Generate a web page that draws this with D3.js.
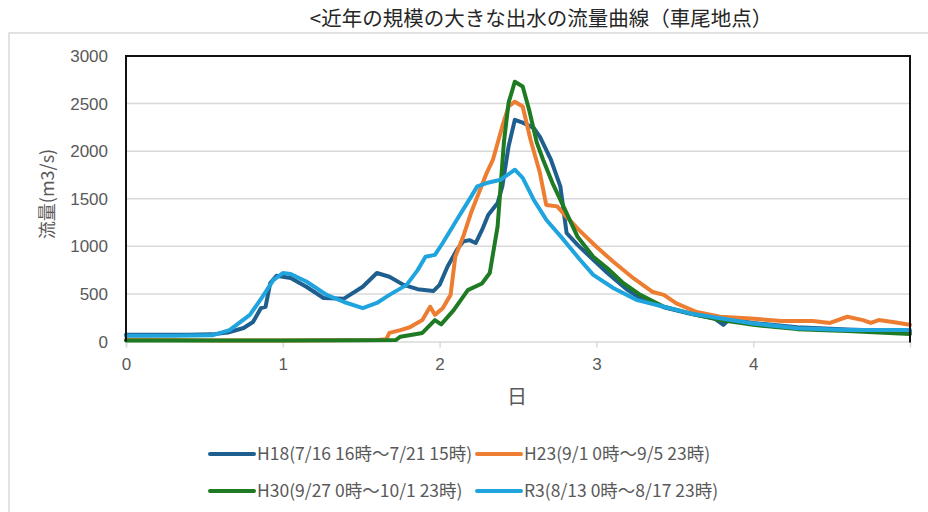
<html>
<head>
    <meta charset="utf-8">
    <style>
        body { margin: 0; background: #fff; }
        text { font-family: "Liberation Sans", Arial, "Noto Sans CJK JP", sans-serif; }
        .jp { font-family: "Noto Sans CJK JP", "Liberation Sans", sans-serif; }
    </style>
    <script src="https://cdn.jsdelivr.net/npm/d3@7"></script>
</head>

<body>
    <svg id="container" width="928" height="512">
        <g id="body"></g>
    </svg>
</body>
<script>
    // 日 (days from start) and 流量 (m3/s)
    let h18Days = [0, 0.2, 0.4, 0.55, 0.65, 0.75, 0.81, 0.86, 0.89, 0.92, 0.96, 1.0, 1.05, 1.15, 1.26, 1.39, 1.51, 1.6, 1.68, 1.77, 1.86, 1.96, 2.0, 2.05, 2.11, 2.15, 2.19, 2.23, 2.27, 2.31, 2.37, 2.4, 2.44, 2.48, 2.53, 2.6, 2.64, 2.71, 2.77, 2.81, 2.88, 2.96, 3.07, 3.2, 3.28, 3.43, 3.6, 3.75, 3.81, 3.85, 4.0, 4.28, 4.6, 5.0]
    let h18Flow = [70, 70, 70, 75, 95, 142, 205, 350, 365, 613, 690, 680, 668, 575, 457, 450, 575, 720, 680, 595, 550, 530, 595, 785, 963, 1050, 1065, 1035, 1170, 1330, 1455, 1630, 2050, 2330, 2300, 2245, 2150, 1910, 1630, 1140, 1015, 890, 720, 540, 455, 360, 290, 245, 175, 235, 195, 150, 125, 105]

    let h23Days = [0, 0.3, 0.6, 1.0, 1.3, 1.6, 1.66, 1.68, 1.75, 1.81, 1.89, 1.94, 1.97, 2.02, 2.07, 2.10, 2.15, 2.2, 2.25, 2.30, 2.34, 2.40, 2.44, 2.48, 2.53, 2.58, 2.64, 2.68, 2.75, 2.81, 2.89, 3.0, 3.11, 3.24, 3.36, 3.43, 3.51, 3.64, 3.79, 3.96, 4.18, 4.38, 4.49, 4.6, 4.7, 4.75, 4.8, 4.89, 5.0]
    let h23Flow = [20, 15, 10, 10, 12, 15, 25, 90, 120, 150, 225, 365, 280, 350, 490, 890, 1100, 1350, 1560, 1770, 1910, 2260, 2470, 2520, 2470, 2120, 1770, 1435, 1420, 1310, 1170, 995, 835, 660, 520, 490, 400, 310, 260, 245, 215, 215, 195, 260, 225, 195, 225, 205, 175]

    let h30Days = [0, 0.5, 1.0, 1.5, 1.72, 1.75, 1.89, 1.97, 2.01, 2.09, 2.18, 2.27, 2.32, 2.37, 2.41, 2.44, 2.48, 2.53, 2.57, 2.62, 2.66, 2.72, 2.79, 2.88, 2.98, 3.07, 3.17, 3.28, 3.43, 3.6, 3.79, 4.0, 4.28, 4.6, 5.0]
    let h30Flow = [10, 10, 10, 12, 15, 50, 90, 225, 180, 330, 540, 610, 720, 1210, 2090, 2510, 2730, 2680, 2440, 2090, 1910, 1665, 1420, 1100, 890, 770, 615, 490, 365, 295, 225, 175, 130, 110, 80]

    let r3Days = [0, 0.3, 0.55, 0.66, 0.79, 0.87, 0.94, 1.0, 1.05, 1.15, 1.28, 1.39, 1.51, 1.6, 1.68, 1.79, 1.86, 1.91, 1.97, 2.02, 2.11, 2.20, 2.24, 2.30, 2.39, 2.48, 2.53, 2.60, 2.68, 2.79, 2.89, 2.98, 3.11, 3.26, 3.43, 3.6, 3.79, 4.0, 4.28, 4.6, 5.0]
    let r3Flow = [60, 60, 65, 120, 280, 470, 645, 720, 710, 630, 490, 415, 350, 405, 490, 595, 750, 890, 910, 1035, 1280, 1520, 1630, 1665, 1700, 1805, 1720, 1490, 1280, 1070, 870, 700, 560, 435, 365, 295, 245, 190, 140, 120, 120]

    let seriesNames = ["H18(7/16 16時～7/21 15時)", "H23(9/1 0時～9/5 23時)", "H30(9/27 0時～10/1 23時)", "R3(8/13 0時～8/17 23時)"]
    let seriesColors = ["#1f5f8f", "#ed7d31", "#1e7a23", "#20a4de"]
    let yTicks = [0, 500, 1000, 1500, 2000, 2500, 3000]
    let xTicks = [0, 1, 2, 3, 4]

    let svg = d3.select("#container")
    let body = d3.select("#body")

    let series = [
        {days: h18Days, flow: h18Flow},
        {days: h23Days, flow: h23Flow},
        {days: h30Days, flow: h30Flow},
        {days: r3Days, flow: r3Flow}
    ].map((s, i) => ({
        name: seriesNames[i],
        color: seriesColors[i],
        points: s.days.map((d, j) => [d, s.flow[j]])
    }))

    // outer frame + title
    svg.insert("rect", "#body")
        .attr("x", 9).attr("y", 33).attr("width", 940).attr("height", 500)
        .attr("fill", "none").attr("stroke", "#d9d9d9").attr("stroke-width", 1.5)

    svg.append("text")
        .attr("class", "jp")
        .attr("x", 541).attr("y", 26)
        .attr("text-anchor", "middle")
        .attr("font-size", 20.5)
        .attr("fill", "#262626")
        .text("<近年の規模の大きな出水の流量曲線（車尾地点）")

    let plotL = 126, plotR = 910, plotT = 56, plotB = 341.5

    let x = d3.scaleLinear().domain([0, 5]).range([plotL, plotR])
    let y = d3.scaleLinear().domain([0, 3000]).range([plotB, plotT])

    // gridlines
    body.selectAll(".grid")
        .data(yTicks.slice(1, -1))
        .enter().append("line")
        .attr("x1", plotL).attr("x2", plotR)
        .attr("y1", d => y(d)).attr("y2", d => y(d))
        .attr("stroke", "#d9d9d9").attr("stroke-width", 1.5)

    // y labels
    body.selectAll(".ylab")
        .data(yTicks)
        .enter().append("text")
        .attr("x", 108).attr("y", d => y(d))
        .attr("dy", "0.36em")
        .attr("text-anchor", "end")
        .attr("font-size", 17)
        .attr("fill", "#595959")
        .text(d => d)

    // x axis
    let xAxis = d3.axisBottom(x).tickValues(xTicks).tickFormat(d3.format("d")).tickSize(6).tickPadding(10)
    let gx = body.append("g")
        .attr("transform", `translate(0,${plotB})`)
        .call(xAxis)
    gx.select(".domain").attr("stroke", "#d9d9d9").attr("stroke-width", 1.5)
    gx.selectAll(".tick line").attr("stroke", "#d9d9d9").attr("stroke-width", 1.5)
    gx.selectAll(".tick text")
        .attr("font-size", 17)
        .attr("fill", "#595959")
        .attr("font-family", "Liberation Sans, Arial, sans-serif")

    // lines
    let line = d3.line()
        .x(d => x(d[0]))
        .y(d => y(d[1]))

    body.selectAll(".series")
        .data(series)
        .enter().append("path")
        .attr("d", d => line(d.points))
        .attr("fill", "none")
        .attr("stroke", d => d.color)
        .attr("stroke-width", 4)
        .attr("stroke-linejoin", "round")
        .attr("stroke-linecap", "round")

    // plot box left/top/right in black
    body.append("path")
        .attr("d", `M${plotL},${plotB}V${plotT}H${plotR}V${plotB + 1}`)
        .attr("fill", "none")
        .attr("stroke", "#111")
        .attr("stroke-width", 2)

    // axis titles
    body.append("text")
        .attr("class", "jp")
        .attr("transform", "translate(54,194) rotate(-90)")
        .attr("text-anchor", "middle")
        .attr("font-size", 18)
        .attr("fill", "#595959")
        .text("流量(m3/s)")

    body.append("text")
        .attr("class", "jp")
        .attr("x", 517).attr("y", 404)
        .attr("text-anchor", "middle")
        .attr("font-size", 20)
        .attr("fill", "#595959")
        .text("日")

    // legend
    let legPos = [[210, 454], [477, 454], [210, 491], [477, 491]]
    let leg = body.selectAll(".leg")
        .data(series)
        .enter().append("g")
        .attr("transform", (d, i) => `translate(${legPos[i][0]},${legPos[i][1]})`)
    leg.append("line")
        .attr("x1", 0).attr("x2", 44)
        .attr("stroke", d => d.color)
        .attr("stroke-width", 4)
        .attr("stroke-linecap", "round")
    leg.append("text")
        .attr("class", "jp")
        .attr("x", 47).attr("dy", "0.35em")
        .attr("font-size", 17.5)
        .attr("fill", "#595959")
        .text(d => d.name)
</script>
</html>
